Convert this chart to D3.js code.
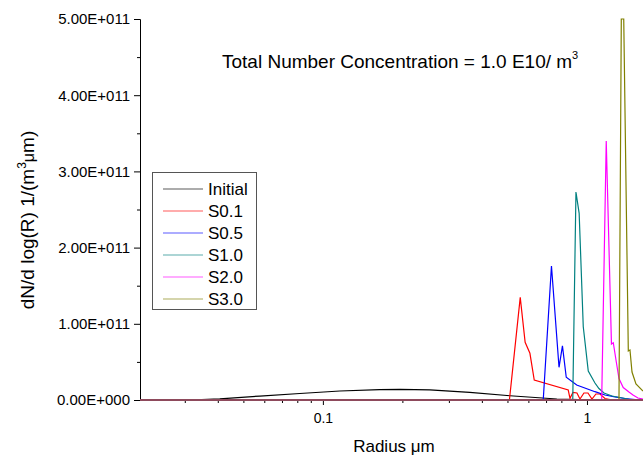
<!DOCTYPE html>
<html>
<head>
<meta charset="utf-8">
<script src="https://cdn.jsdelivr.net/npm/d3@7/dist/d3.min.js"></script>
<style>
  body { margin: 0; background: #fff; }
  svg { font-family: "Liberation Sans", Arial, sans-serif; }
</style>
</head>
<body>
<svg id="chart"></svg>
<script>
var width = 643;
var height = 456;
var margins = { left: 140, right: 0, top: 19, bottom: 56 };

// series names, radius (um) and dN/dlogR values
var seriesNames = ["Initial", "S0.1", "S0.5", "S1.0", "S2.0", "S3.0"];
var seriesColors = ["#000000", "#ff0000", "#0000ff", "#008080", "#ff00ff", "#808000"];

var initialR = [0.0313, 0.0407, 0.0577, 0.0818, 0.116, 0.164, 0.196, 0.254, 0.360, 0.511, 0.769, 1.12];
var initialN = [0, 1.6e9, 5.2e9, 8.5e9, 1.18e10, 1.35e10, 1.40e10, 1.33e10, 1.01e10, 5.6e9, 1.3e9, 0];

var s01R = [0.5086, 0.5589, 0.5833, 0.6081, 0.6315, 0.8493, 0.8623, 0.885, 0.9164, 0.9408, 0.974, 1.0087, 1.0445, 1.0815, 1.12, 1.17, 1.25];
var s01N = [0, 1.347e11, 7.58e10, 6.13e10, 2.62e10, 1.31e10, 2.2e9, 1.0e10, 9.2e9, 1.3e9, 9.2e9, 9.2e9, 1.3e9, 7.9e9, 7.9e9, 2.0e9, 0];

var s05R = [0.683, 0.7338, 0.7838, 0.8075, 0.8347, 0.9142, 1.0723, 1.17, 1.276, 1.393, 1.59];
var s05N = [0, 1.758e11, 4.29e10, 7.11e10, 2.98e10, 1.97e10, 1.09e10, 6.6e9, 4.0e9, 2.0e9, 0];

var s10R = [0.8835, 0.9085, 0.9342, 0.9683, 1.0113, 1.0722, 1.11, 1.16, 1.244, 1.393, 1.48];
var s10N = [0, 2.73e11, 2.45e11, 9.62e10, 3.8e10, 2.23e10, 1.51e10, 9.2e9, 5.2e9, 2.0e9, 0];

var s20R = [1.137, 1.183, 1.238, 1.258, 1.288, 1.322, 1.372, 1.442, 1.494, 1.56, 1.63];
var s20N = [0, 3.40e11, 7.35e10, 7.52e10, 5.25e10, 2.82e10, 1.64e10, 1.05e10, 6.6e9, 2.6e9, 1.0e9];

var s30R = [1.322, 1.349, 1.378, 1.434, 1.455, 1.481, 1.533, 1.630];
var s30N = [0, 5.0e11, 5.0e11, 6.43e10, 6.56e10, 3.67e10, 2.1e10, 1.18e10];

var seriesR = [initialR, s01R, s05R, s10R, s20R, s30R];
var seriesN = [initialN, s01N, s05N, s10N, s20N, s30N];

var xTicks = [0.1, 1];
var xTickLabels = ["0.1", "1"];
var xMinor = [0.03, 0.04, 0.05, 0.06, 0.07, 0.08, 0.09, 0.2, 0.3, 0.4, 0.5, 0.6, 0.7, 0.8, 0.9];
var yTicks = [0, 1e11, 2e11, 3e11, 4e11, 5e11];
var yTickLabels = ["0.00E+000", "1.00E+011", "2.00E+011", "3.00E+011", "4.00E+011", "5.00E+011"];
var yMinor = [0.5e11, 1.5e11, 2.5e11, 3.5e11, 4.5e11];

var xscale = d3.scaleLog()
    .domain([0.0203, 1.63])
    .range([margins.left, width - margins.right]);
var yscale = d3.scaleLinear()
    .domain([0, 5e11])
    .range([height - margins.bottom, margins.top]);

var svg = d3.select("#chart")
    .attr("width", width)
    .attr("height", height);

svg.append("clipPath").attr("id", "plot")
  .append("rect")
    .attr("x", margins.left)
    .attr("y", margins.top - 1)
    .attr("width", width - margins.left - margins.right)
    .attr("height", height - margins.top - margins.bottom + 1);

// curves
var line = d3.line()
    .x(function(d){ return xscale(d[0]); })
    .y(function(d){ return yscale(d[1]); });

svg.append("g")
    .attr("clip-path", "url(#plot)")
  .selectAll("path")
  .data(seriesNames)
  .enter().append("path")
    .attr("fill", "none")
    .attr("stroke", function(d, i){ return seriesColors[i]; })
    .attr("stroke-width", 1.2)
    .attr("d", function(d, i){
        return line(d3.zip(seriesR[i], seriesN[i]));
    });

// y axis, major + minor
svg.append("g")
    .attr("transform", "translate(" + margins.left + ",0)")
    .call(d3.axisLeft(yscale).tickValues(yTicks).tickSize(6).tickPadding(4)
        .tickFormat(function(d, i){ return yTickLabels[i]; }))
    .call(function(g){ g.selectAll("text").attr("font-size", 15).attr("fill", "#000"); })
    .call(function(g){ g.select(".domain").attr("stroke", "#000"); });
svg.append("g")
    .attr("transform", "translate(" + margins.left + ",0)")
    .call(d3.axisLeft(yscale).tickValues(yMinor).tickSize(3).tickFormat(""))
    .call(function(g){ g.select(".domain").remove(); });

// x axis, the baseline is where all zero parts of the curves overlap
var xaxis = svg.append("g")
    .attr("transform", "translate(0," + (height - margins.bottom) + ")")
    .call(d3.axisBottom(xscale).tickValues(xTicks).tickSize(5).tickPadding(8)
        .tickFormat(function(d, i){ return xTickLabels[i]; }));
xaxis.selectAll("text").attr("font-size", 14).attr("fill", "#000");
xaxis.select(".domain").remove();
svg.append("g")
    .attr("transform", "translate(0," + (height - margins.bottom) + ")")
    .call(d3.axisBottom(xscale).tickValues(xMinor).tickSize(3).tickFormat(""))
    .call(function(g){ g.select(".domain").remove(); });
svg.append("line")
    .attr("x1", xscale.range()[0])
    .attr("x2", xscale.range()[1])
    .attr("y1", yscale(0))
    .attr("y2", yscale(0))
    .attr("stroke", "#8e4a5c")
    .attr("stroke-width", 2);

// axis titles
svg.append("text")
    .attr("x", 394)
    .attr("y", 452)
    .attr("text-anchor", "middle")
    .attr("font-size", 17)
    .text("Radius \u03bcm");

var ylab = svg.append("text")
    .attr("transform", "translate(34,220) rotate(-90)")
    .attr("text-anchor", "middle")
    .attr("font-size", 19);
ylab.append("tspan").text("dN/d log(R) 1/(m");
ylab.append("tspan").attr("dy", -8).attr("font-size", 12).text("3");
ylab.append("tspan").attr("dy", 8).attr("font-size", 16).text("\u03bc");
ylab.append("tspan").text("m)");

// annotation
var note = svg.append("text")
    .attr("x", 222)
    .attr("y", 68)
    .attr("font-size", 19);
note.append("tspan").text("Total Number Concentration = 1.0 E10/ m");
note.append("tspan").attr("dy", -9).attr("font-size", 11).text("3");

// legend
var legend = svg.append("g");
legend.append("rect")
    .attr("x", 152.5)
    .attr("y", 172.5)
    .attr("width", 104)
    .attr("height", 137)
    .attr("fill", "#fff")
    .attr("stroke", "#555");
var items = legend.selectAll("g.item")
    .data(seriesNames)
    .enter().append("g")
    .attr("transform", function(d, i){ return "translate(0," + (189 + i * 22) + ")"; });
items.append("line")
    .attr("x1", 163).attr("x2", 203)
    .attr("stroke", function(d, i){ return seriesColors[i]; })
    .attr("stroke-opacity", 0.65);
items.append("text")
    .attr("x", 208)
    .attr("y", 6)
    .attr("font-size", 17)
    .text(function(d){ return d; });
</script>
</body>
</html>
